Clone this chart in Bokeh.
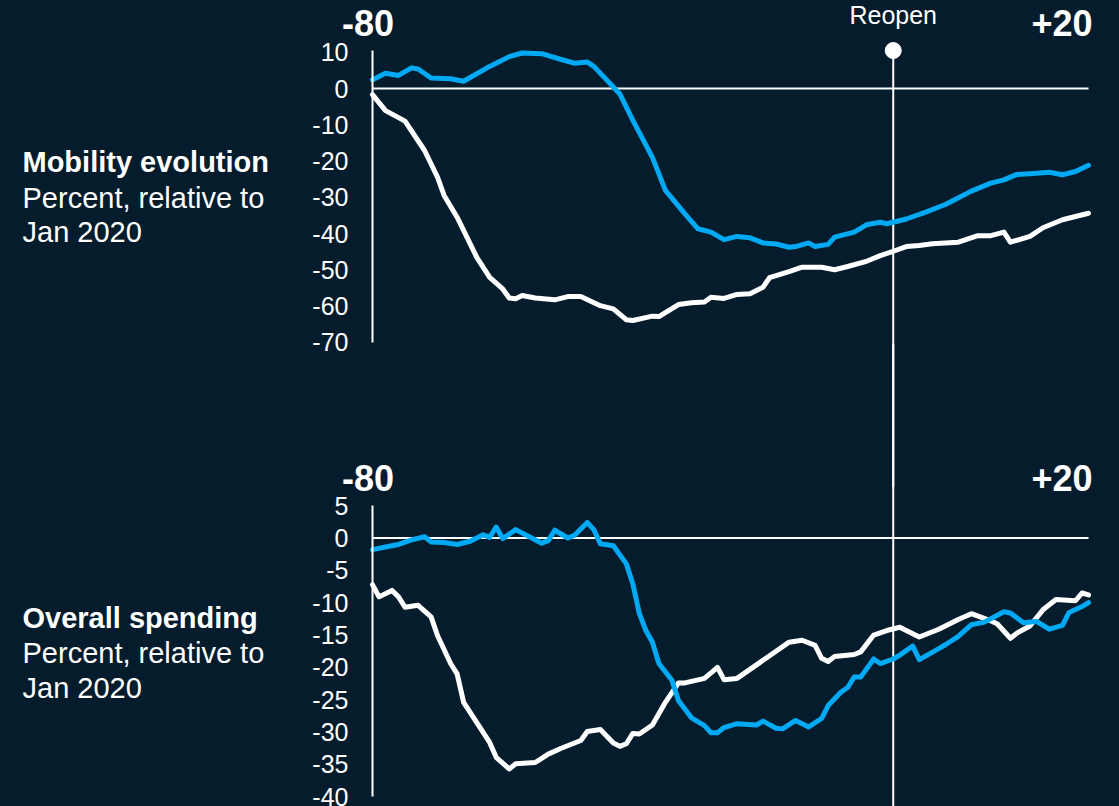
from bokeh.plotting import figure
from bokeh.models import Range1d, FixedTicker, Label, LinearAxis
from bokeh.embed import file_html
from bokeh.resources import INLINE

BG = "#051c2c"
BLUE = "#00a9f4"
WHITE = "#ffffff"
FONT = "Liberation Sans"

# ---- Mobility evolution (percent vs Jan 2020), days relative to reopening ----
mob_blue_days = [-80, -78, -76, -74, -73, -71, -68, -66, -62, -59, -57, -54, -51, -49, -47, -46,
                 -43, -42, -40, -37, -35, -32, -30, -28, -26, -24, -22, -20, -18, -16, -15, -13,
                 -12, -10, -9, -6, -4, -2, -1, 2, 5, 8, 12, 15, 17, 19, 21, 24, 26, 28, 30]
mob_blue_vals = [2.4, 4.2, 3.6, 5.7, 5.4, 2.9, 2.7, 2.0, 6.1, 8.8, 9.8, 9.6, 8.0, 7.0, 7.3, 6.1,
                 0.4, -1.5, -8.8, -19.0, -28.1, -34.6, -38.7, -39.6, -41.7, -40.8, -41.2, -42.6,
                 -42.9, -43.8, -43.6, -42.6, -43.6, -43.0, -41.0, -39.6, -37.5, -36.9, -37.3,
                 -36.0, -34.1, -32.0, -28.3, -26.1, -25.2, -23.7, -23.5, -23.1, -23.8, -22.9, -21.2]

mob_white_days = [-80, -78, -75, -72, -70, -69, -67, -64, -62, -60, -59, -58, -57, -55, -52, -50,
                  -48, -45, -43, -41, -40, -37, -36, -33, -31, -29, -28, -26, -24, -22, -20, -19,
                  -16, -14, -11, -9, -7, -4, -2, 0, 2, 4, 6, 10, 13, 15, 17, 18, 21, 23, 26, 30]
mob_white_vals = [-1.7, -6.1, -9.0, -17.1, -24.5, -29.5, -35.5, -46.5, -52.1, -55.3, -57.8, -58.0,
                  -57.1, -57.8, -58.3, -57.4, -57.4, -59.9, -60.8, -63.8, -64.0, -62.8, -62.9,
                  -59.6, -59.1, -58.9, -57.6, -57.9, -56.8, -56.6, -54.8, -52.2, -50.5, -49.3,
                  -49.3, -50.0, -49.1, -47.6, -46.1, -44.9, -43.6, -43.3, -42.8, -42.4, -40.6,
                  -40.6, -39.6, -42.4, -40.8, -38.4, -36.2, -34.4]

# ---- Overall spending (percent vs Jan 2020) ----
spend_blue_days = [-80, -78, -76, -74, -72, -71, -69, -67, -65, -63, -62, -61, -60, -58, -54, -53,
                   -52, -50, -49, -47, -46, -45, -43, -41, -40, -39, -38, -37, -36, -34, -33, -31,
                   -29, -28, -27, -26, -24, -21, -20, -18, -17, -15, -13, -11, -10, -8, -7, -6,
                   -5, -3, -2, 0, 1, 3, 4, 7, 8, 10, 12, 14, 17, 18, 20, 22, 24, 26, 27, 29, 30]
spend_blue_vals = [-1.8, -1.4, -1.0, -0.3, 0.2, -0.6, -0.7, -1.0, -0.5, 0.5, 0.1, 1.7, -0.1, 1.3,
                   -0.8, -0.4, 1.2, 0.0, 0.4, 2.4, 1.3, -0.9, -1.2, -4.0, -7.1, -11.7, -14.3,
                   -16.1, -19.4, -22.0, -25.1, -27.8, -29.0, -30.1, -30.1, -29.3, -28.7, -28.9,
                   -28.3, -29.4, -29.5, -28.2, -29.2, -27.9, -25.9, -23.8, -23.1, -21.5, -21.5,
                   -18.7, -19.4, -18.7, -18.1, -16.7, -18.8, -17.1, -16.5, -15.2, -13.4, -13.0,
                   -11.4, -11.6, -13.1, -12.9, -14.1, -13.5, -11.5, -10.6, -10.0]

spend_white_days = [-80, -79, -77, -76, -75, -73, -71, -70, -68, -67, -66, -64, -62, -61, -59, -58,
                    -55, -53, -51, -48, -47, -45, -43, -42, -41, -40, -39, -37, -35, -33, -32, -29,
                    -27, -26, -24, -22, -18, -16, -14, -12, -11, -10, -9, -6, -5, -3, -1, 1, 2, 4,
                    7, 10, 12, 15, 16, 18, 19, 21, 23, 25, 28, 29, 30]
spend_white_vals = [-7.2, -9.1, -8.1, -9.1, -10.7, -10.4, -12.2, -15.1, -19.4, -21.0, -25.4, -28.5,
                    -31.6, -33.9, -35.7, -34.9, -34.7, -33.4, -32.5, -31.3, -29.9, -29.6, -31.7,
                    -32.2, -31.8, -30.2, -30.3, -28.9, -25.4, -22.4, -22.4, -21.7, -20.0, -21.9,
                    -21.7, -20.3, -17.5, -16.1, -15.8, -16.6, -18.6, -19.1, -18.3, -18.0, -17.6,
                    -15.0, -14.3, -13.8, -14.3, -15.3, -14.1, -12.6, -11.7, -12.8, -13.3, -15.5,
                    -14.7, -13.6, -11.1, -9.5, -9.7, -8.5, -8.8]

mob_ticks = [10, 0, -10, -20, -30, -40, -50, -60, -70]
spend_ticks = [5, 0, -5, -10, -15, -20, -25, -30, -35, -40]
mob_label = ["Mobility evolution", "Percent, relative to", "Jan 2020"]
spend_label = ["Overall spending", "Percent, relative to", "Jan 2020"]
range_labels = ["-80", "+20"]
reopen_text = "Reopen"

D0, D1 = -80, 30            # first / last day of the series
XR0, XR1 = -137.15, 34.76   # visible x range (frame spans the whole canvas)
LEFT_X = -133.77            # x of the left-side panel labels

p = figure(width=1119, height=806, x_range=Range1d(XR0, XR1),
           y_range=Range1d(-198.07, 24.28),          # mobility panel scale
           output_backend="svg", toolbar_location=None, x_axis_location=None,
           y_axis_location=None, min_border=0, background_fill_color=BG,
           border_fill_color=BG, outline_line_color=None)
p.extra_y_ranges = {"spend": Range1d(-41.5, 83.08)}  # spending panel scale
p.grid.visible = False


def style_axis(ax, ticks):
    ax.fixed_location = D0
    ax.ticker = FixedTicker(ticks=ticks)
    ax.major_label_overrides = {t: str(t) for t in ticks}
    ax.axis_line_color = WHITE
    ax.axis_line_width = 2
    ax.major_tick_line_color = None
    ax.minor_tick_line_color = None
    ax.major_label_text_color = WHITE
    ax.major_label_text_font = FONT
    ax.major_label_text_font_size = "25px"
    ax.major_label_standoff = 18


ax_top = LinearAxis(bounds=(-70, 10.5))
style_axis(ax_top, mob_ticks)
p.add_layout(ax_top, "left")
ax_bot = LinearAxis(y_range_name="spend", bounds=(-40, 5.1))
style_axis(ax_bot, spend_ticks)
p.add_layout(ax_bot, "left")

# reopening marker, spanning both panels (two overlapping pieces)
p.segment(x0=[0], y0=[10.48], x1=[0], y1=[-110], line_color=WHITE, line_width=2)
p.segment(x0=[0], y0=[30], x1=[0], y1=[-45], line_color=WHITE, line_width=2,
          y_range_name="spend")
p.scatter([0], [10.48], size=16, color=WHITE)
p.add_layout(Label(x=0, y=20.4, text=reopen_text, text_align="center", text_baseline="middle",
                   text_font=FONT, text_font_size="25px", text_color=WHITE))


def panel(rname, days_w, vals_w, days_b, vals_b, label_lines, label_ys, range_y):
    kw = {} if rname is None else {"y_range_name": rname}
    p.segment(x0=[D0], y0=[0], x1=[D1], y1=[0], line_color=WHITE, line_width=2, **kw)
    p.line(days_w, vals_w, line_color=WHITE, line_width=5, line_join="round",
           line_cap="round", **kw)
    p.line(days_b, vals_b, line_color=BLUE, line_width=5, line_join="round",
           line_cap="round", **kw)
    p.add_layout(Label(x=-80.7, y=range_y, text=range_labels[0], text_align="center",
                       text_baseline="middle", text_font=FONT, text_font_style="bold",
                       text_font_size="36px", text_color=WHITE, **kw))
    p.add_layout(Label(x=30.61, y=range_y, text=range_labels[1], text_align="right",
                       text_baseline="middle", text_font=FONT, text_font_style="bold",
                       text_font_size="36px", text_color=WHITE, **kw))
    for i, (txt, yy) in enumerate(zip(label_lines, label_ys)):
        p.add_layout(Label(x=LEFT_X, y=yy, text=txt, text_align="left", text_baseline="middle",
                           text_font=FONT, text_font_style="bold" if i == 0 else "normal",
                           text_font_size="29px", text_color=WHITE, **kw))


panel(None, mob_white_days, mob_white_vals, mob_blue_days, mob_blue_vals,
      mob_label, [-20.41, -30.07, -39.72], 18.2)
panel("spend", spend_white_days, spend_white_vals, spend_blue_days, spend_blue_vals,
      spend_label, [-12.29, -17.70, -23.11], 9.2)

html = file_html(p, INLINE)
html = html.replace("<body>", '<body style="background-color:%s;">' % BG)
open("out.html", "w").write(html)
